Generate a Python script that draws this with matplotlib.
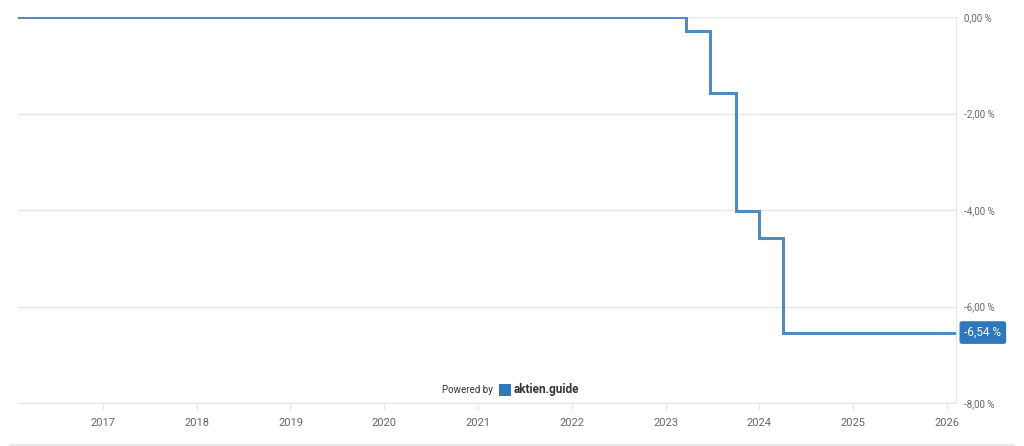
import datetime as dt
import matplotlib
matplotlib.use("Agg")
import matplotlib.pyplot as plt
import matplotlib.dates as mdates
from matplotlib.patches import Rectangle

plt.rcParams["font.family"] = ["Roboto", "DejaVu Sans"]

# step dates (change points) and values in %
dates = [dt.date(2016, 2, 5), dt.date(2023, 3, 22), dt.date(2023, 6, 24),
         dt.date(2023, 10, 1), dt.date(2024, 1, 1), dt.date(2024, 4, 1),
         dt.date(2026, 2, 5)]
values = [0.0, -0.29, -1.58, -4.02, -4.57, -6.54, -6.54]
years = list(range(2017, 2027))
yticks = [0, -2, -4, -6, -8]
last_label = "-6,54 %"

line_col = "#5189c1"
grid_col = "#e6e6e6"
text_col = "#666666"

fig = plt.figure(figsize=(10.24, 4.46), dpi=100)
W, H = 1024, 446
ax = fig.add_axes([18 / W, (H - 403) / H, (956 - 18) / W, (403 - 17) / H])

ax.step(dates, values, where="post", color=line_col, lw=2.2, zorder=3,
        solid_joinstyle="miter")

ax.set_xlim(dates[0], dates[-1])
ax.set_ylim(-8, 0)
ax.set_yticks(yticks)
ax.set_yticklabels([f"{v:.2f} %".replace(".", ",") for v in yticks])
ax.yaxis.tick_right()
ax.tick_params(axis="y", length=0, pad=6, labelsize=7, labelcolor=text_col)
ax.grid(axis="y", color=grid_col, lw=1)

ax.set_xticks([dt.date(y, 1, 1) for y in years])
ax.xaxis.set_major_formatter(mdates.DateFormatter("%Y"))
ax.tick_params(axis="x", length=5, color=grid_col, pad=6, labelsize=8,
               labelcolor=text_col)

for s in ["top", "left"]:
    ax.spines[s].set_visible(False)
ax.spines["right"].set_color(grid_col)
ax.spines["bottom"].set_color(grid_col)
ax.set_facecolor("white")

# last value badge
ax.annotate(last_label, xy=(1, values[-1]), xycoords=("axes fraction", "data"),
            xytext=(6, 0), textcoords="offset points", va="center", ha="left",
            color="white", fontsize=8.5,
            bbox=dict(boxstyle="round,pad=0.35,rounding_size=0.15",
                      fc="#2f78bd", ec="#2f78bd"))

# bottom separator line
fig.add_artist(plt.Line2D([10 / W, 1014 / W], [1.5 / H, 1.5 / H],
                          color=grid_col, lw=1.2))

# watermark
fig.text(493 / W, (H - 390) / H, "Powered by", fontsize=7, color="#333333",
         va="center", ha="right")
fig.add_artist(Rectangle((499 / W, (H - 396) / H), 12 / W, 12 / H,
                         transform=fig.transFigure, fc="#2f78bd", ec="none"))
fig.text(514 / W, (H - 390) / H, "aktien.guide", fontsize=8.5, color="#333333",
         va="center", ha="left", fontweight="bold")

fig.savefig("out.png", dpi=100, facecolor="white")
